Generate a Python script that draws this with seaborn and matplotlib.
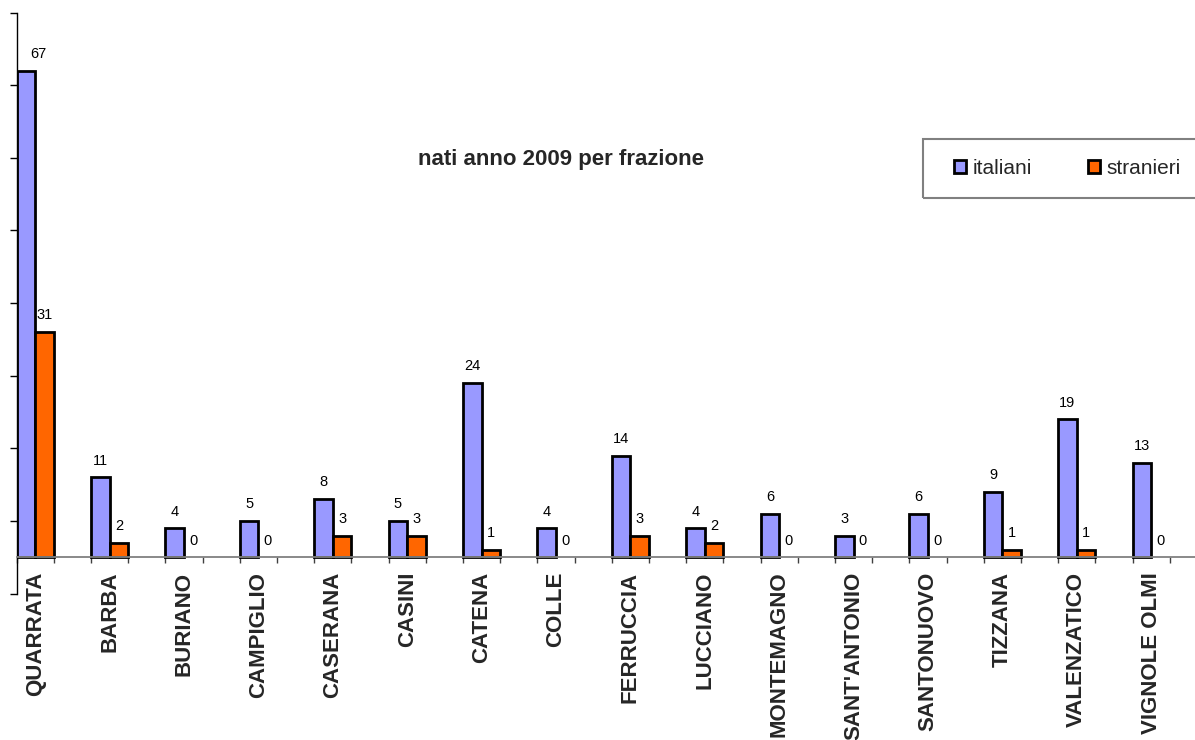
import matplotlib
matplotlib.use("Agg")
import matplotlib.pyplot as plt
import seaborn as sns
import pandas as pd
import numpy as np
from matplotlib.patches import Patch, Rectangle

categories = ["QUARRATA", "BARBA", "BURIANO", "CAMPIGLIO", "CASERANA", "CASINI",
              "CATENA", "COLLE", "FERRUCCIA", "LUCCIANO", "MONTEMAGNO",
              "SANT'ANTONIO", "SANTONUOVO", "TIZZANA", "VALENZATICO", "VIGNOLE OLMI"]
italiani = [67, 11, 4, 5, 8, 5, 24, 4, 14, 4, 6, 3, 6, 9, 19, 13]
stranieri = [31, 2, 0, 0, 3, 3, 1, 0, 3, 2, 0, 0, 0, 1, 1, 0]
series_names = ["italiani", "stranieri"]
title = "nati anno 2009 per frazione"

sns.set_style("white")
plt.rcParams["font.family"] = ["Liberation Sans", "DejaVu Sans"]

df = pd.DataFrame({
    "frazione": categories * 2,
    "nati": italiani + stranieri,
    "tipo": [series_names[0]] * len(categories) + [series_names[1]] * len(categories),
})

colors = {"italiani": "#9999FF", "stranieri": "#FF6600"}

fig = plt.figure(figsize=(11.95, 7.40), dpi=100)
W, H = 1195, 740
ax = fig.add_axes([16.7 / W, 1 - 593.6 / H, (W - 16.7) / W, (593.6 - 12.6) / H])

sns.barplot(data=df, x="frazione", y="nati", hue="tipo", order=categories,
            hue_order=series_names, palette=colors, width=0.5, saturation=1,
            edgecolor="black", linewidth=2, ax=ax, legend=False)

for ci, cont in enumerate(ax.containers):
    for p in cont.patches:
        if p.get_height() == 0:
            p.set_linewidth(0)
    texts = ax.bar_label(cont, labels=[f"{int(v)}" for v in cont.datavalues],
                         padding=7, fontsize=10.5, color="black")
    if ci == 0:
        # first label is nudged right, away from the value axis
        t = texts[0]
        dx, dy = t.xyann
        t.xyann = (dx + 8.6, dy)

ax.set_xlim(-0.25, 15.59)
ax.set_ylim(-5, 75)
ax.set_xlabel("")
ax.set_ylabel("")

ax.spines["top"].set_visible(False)
ax.spines["right"].set_visible(False)
ax.spines["left"].set_color("black")
ax.spines["left"].set_linewidth(1.0)
ax.spines["bottom"].set_position(("data", 0))
ax.spines["bottom"].set_color("#808080")
ax.spines["bottom"].set_linewidth(1.3)

ax.set_yticks(np.arange(-5, 76, 10))
ax.set_yticklabels([])
ax.tick_params(axis="y", direction="out", length=5, width=1, color="black", left=True)

ax.set_xticks(range(len(categories)))
ax.set_xticklabels(categories, rotation=90, fontsize=16, fontweight="bold")
ax.tick_params(axis="x", which="major", length=0, pad=10.5, bottom=True)
minor = sorted([i - 0.25 for i in range(len(categories))] + [i + 0.25 for i in range(len(categories))])
ax.set_xticks(minor, minor=True)
ax.tick_params(axis="x", which="minor", direction="out", length=4.5, width=1,
               color="#404040", bottom=True)

fig.text(561 / W, 1 - 159 / H, title, ha="center", va="center",
         fontsize=16, fontweight="bold")

# legend
handles = [Patch(facecolor=colors[n], edgecolor="black", linewidth=2) for n in series_names]
leg = fig.legend(handles, series_names, loc="center left",
                 bbox_to_anchor=(954 / W, 1 - 168 / H), bbox_transform=fig.transFigure,
                 ncol=2, frameon=False, fontsize=15, handlelength=0.58, handleheight=0.58,
                 handletextpad=0.3, columnspacing=2.7, borderpad=0, borderaxespad=0)
fig.patches.append(Rectangle((923 / W, 1 - 198 / H), (W + 10 - 923) / W, 59 / H,
                             transform=fig.transFigure, fill=False,
                             edgecolor="#808080", linewidth=1.5, clip_on=False))

fig.savefig("out.png", dpi=100)
